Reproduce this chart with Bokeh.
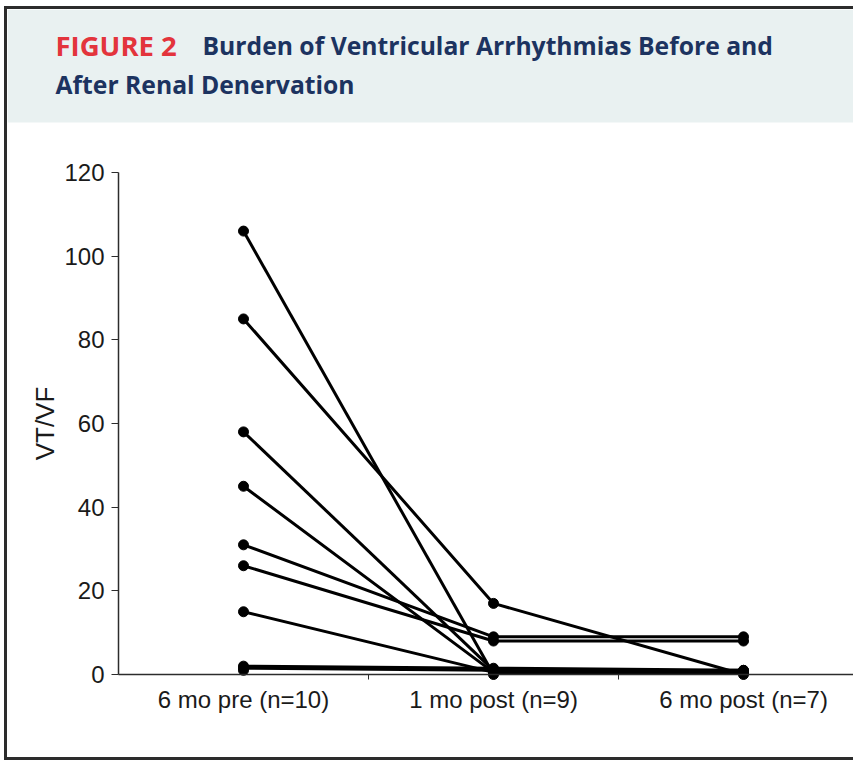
import numpy as np
from bokeh.plotting import figure
from bokeh.models import Range1d, FixedTicker, BoxAnnotation
from bokeh.layouts import column
from bokeh.core.properties import value
from bokeh.embed import file_html
from bokeh.resources import INLINE

# ---- data ----
categories = ["6 mo pre (n=10)", "1 mo post (n=9)", "6 mo post (n=7)"]
pre_6mo = [106, 85, 58, 45, 31, 26, 15, 2, 1.5, 1]
post_1mo = [0, 17, 1, 0.5, 9, 8, 0.5, 1.5, 1, np.nan]
post_6mo = [np.nan, 0, np.nan, 0.5, 9, 8, 1, 1, 0.5, np.nan]
y_ticks = [0, 20, 40, 60, 80, 100, 120]
y_label = "VT/VF"

title_tag = "FIGURE 2"
title_line1 = "Burden of Ventricular Arrhythmias Before and"
title_line2 = "After Renal Denervation"

BAND = "#e9f1f1"
RED = "#e3343c"
NAVY = "#1c3360"
BORDER = "#2c2c2c"
TITLE_FONT = value("Open Sans")
AXIS_FONT = "Liberation Sans"

W, H = 846, 748

xs = list(range(1, len(categories) + 1))
x0, x1 = 0.056, 3.44
y0, y1 = -19.84, 158.97
p = figure(width=W, height=H, x_range=Range1d(x0, x1), y_range=Range1d(y0, y1),
           output_backend="svg", toolbar_location=None, min_border=0,
           outline_line_color=None, background_fill_color="white", border_fill_color="white")
p.grid.visible = False

# title band
p.add_layout(BoxAnnotation(bottom=131.95, fill_color=BAND, fill_alpha=1.0,
                           line_color=None, level="underlay"))

# axes placed inside the frame
p.xaxis.fixed_location = 0
p.xaxis.bounds = (0.5, x1)
p.yaxis.fixed_location = 0.5
p.yaxis.bounds = (0, 120)

p.xaxis.ticker = FixedTicker(ticks=xs, minor_ticks=[x + 0.5 for x in xs[:-1]])
p.xaxis.major_label_overrides = {x: c for x, c in zip(xs, categories)}
p.xaxis.major_tick_out = 0
p.xaxis.major_tick_in = 0
p.xaxis.minor_tick_out = 5
p.xaxis.minor_tick_in = 0
p.xaxis.major_label_standoff = 6

p.yaxis.ticker = FixedTicker(ticks=y_ticks, minor_ticks=[])
p.yaxis.major_tick_out = 7
p.yaxis.major_tick_in = 0
p.yaxis.minor_tick_out = 0
p.yaxis.major_label_standoff = 7
p.yaxis.axis_label = y_label
p.yaxis.axis_label_standoff = 1

for ax in (p.xaxis, p.yaxis):
    ax.axis_line_color = BORDER
    ax.axis_line_width = 1.5
    ax.major_tick_line_color = BORDER
    ax.minor_tick_line_color = BORDER
    ax.major_label_text_font = AXIS_FONT
    ax.major_label_text_font_size = "24px"
    ax.major_label_text_color = "#1a1a1a"
    ax.axis_label_text_font = AXIS_FONT
    ax.axis_label_text_font_size = "26px"
    ax.axis_label_text_font_style = "normal"
    ax.axis_label_text_color = "#1a1a1a"

series = np.array([pre_6mo, post_1mo, post_6mo], dtype=float).T
for row in series:
    p.line(x=xs, y=row, line_color="black", line_width=3)
for i, x in enumerate(xs):
    col = series[:, i]
    ok = ~np.isnan(col)
    p.scatter(x=[x] * int(ok.sum()), y=col[ok], size=10, color="black")

# ---- title ----
title_style = dict(text_font=TITLE_FONT, text_font_style="bold",
                   text_baseline="alphabetic", text_align="left")
p.text(x=[0.248], y=[150.36], text=[title_tag], text_color=RED,
       text_font_size="27.5px", **title_style)
p.text(x=[0.836], y=[150.36], text=[title_line1], text_color=NAVY,
       text_font_size="24.7px", **title_style)
p.text(x=[0.248], y=[141.04], text=[title_line2], text_color=NAVY,
       text_font_size="24.7px", **title_style)

layout = column(p, spacing=0,
                styles={"margin-left": "4px", "margin-top": "6px",
                        "border-left": f"3px solid {BORDER}",
                        "border-top": f"3px solid {BORDER}",
                        "border-bottom": f"3px solid {BORDER}"})

open("out.html", "w").write(file_html(layout, INLINE))
